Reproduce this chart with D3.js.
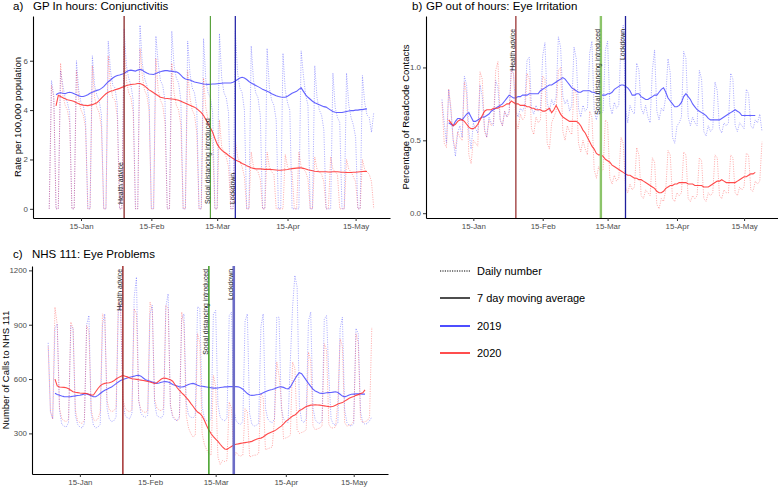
<!DOCTYPE html>
<html><head><meta charset="utf-8">
<script src="https://cdn.jsdelivr.net/npm/d3@7"></script>
<style>
body{margin:0;background:#fff}
svg{display:block}
text{font-family:"Liberation Sans",Arial,Helvetica,sans-serif}
</style>
</head><body>
<svg id="chart" width="778" height="488"></svg>
<script>
// ---------- DATA (day index 0 = 1 Jan 2020, last = 23 May 2020; 2019 aligned by weekday) ----------
const firstDay = "2020-01-01";
const maStartIndex = 3; // centred 7-day moving averages start on day 3

// a) GP In hours: Conjunctivitis (rate per 100,000)
const aDaily2019 = [0,5.2,4.6,0,0,
5.6,5.0,4.5,4.3,3.9,0,0, 6.0,4.8,4.3,4.2,3.6,0,0, 6.2,5.0,4.6,4.4,3.8,0,0, 6.8,5.6,5.0,4.9,4.2,0,0,
7.3,5.8,5.3,5.0,4.4,0,0, 7.44,5.9,5.3,5.0,4.4,0,0, 7.0,5.9,5.2,5.0,4.4,0,0, 7.2,5.8,5.3,5.1,4.4,0,0,
6.8,5.5,4.9,4.7,4.1,0,0, 6.9,5.2,4.7,4.5,3.9,0,0, 7.1,5.3,4.7,4.5,3.9,0,0, 7.2,5.5,4.9,4.7,4.0,0,0,
6.6,5.2,4.7,4.5,3.8,0,0, 6.5,4.9,4.4,4.2,3.6,0,0, 6.3,4.8,4.3,4.0,0,0,0, 0,6.4,5.4,4.6,4.2,0,0,
5.8,4.5,4.0,3.8,3.2,0,0, 0,5.5,4.1,3.7,3.5,0,0, 5.5,4.2,3.7,3.4,2.9,0,0, 5.4,4.3,3.8,3.7,3.1,3.9];
const aDaily2020 = [0,5.0,4.5,0,0,
5.9,4.6,4.2,4.0,3.5,0,0, 5.6,4.4,4.0,3.8,3.3,0,0, 5.8,4.5,4.1,3.9,3.3,0,0, 6.2,5.0,4.5,4.4,3.7,0,0,
6.6,5.2,4.7,4.5,3.9,0,0, 6.5,5.4,4.8,4.6,4.0,0,0, 6.1,4.8,4.4,4.2,3.5,0,0, 5.9,4.7,4.2,4.0,3.4,0,0,
5.6,4.5,4.0,3.8,3.1,0,0, 5.3,4.1,3.6,3.2,2.6,0,0, 3.6,2.5,2.3,2.1,1.7,0,0, 2.8,2.1,1.9,1.7,1.3,0,0,
2.3,1.7,1.6,1.5,1.2,0,0, 2.3,1.7,1.5,1.4,0,0,0, 0,2.2,1.7,1.6,1.5,0,0, 2.3,1.7,1.6,1.5,1.2,0,0,
2.1,1.6,1.5,1.4,1.1,0,0, 2.1,1.6,1.5,1.4,0,0,0, 2.0,1.6,1.5,1.3,1.1,0,0, 2.0,1.6,1.5,1.4,1.1,0];
const aMA2019 = [4.62,4.68,4.70,4.68,4.66,4.70,4.72, 4.70,4.66,4.62,4.58,4.55,4.55,4.58,
4.62,4.68,4.72,4.76,4.80,4.82,4.88, 4.95,5.05,5.15,5.22,5.30,5.36,5.40, 5.42,5.45,5.48,5.55,5.60,5.62,5.60,
5.58,5.62,5.65,5.62,5.55,5.50,5.46, 5.45,5.44,5.48,5.52,5.55,5.58,5.60, 5.60,5.58,5.58,5.56,5.55,5.50,5.42,
5.32,5.26,5.24,5.22,5.18,5.14,5.12, 5.10,5.08,5.06,5.05,5.04,5.05,5.06, 5.06,5.07,5.08,5.09,5.10,5.10,5.10,
5.10,5.13,5.18,5.24,5.30,5.33,5.30, 5.24,5.16,5.10,5.05,5.00,4.95,4.90, 4.84,4.80,4.76,4.72,4.66,4.62,4.58,
4.55,4.53,4.52,4.52,4.56,4.62,4.68, 4.72,4.76,4.84,4.90,4.76,4.62,4.52, 4.44,4.36,4.30,4.26,4.22,4.18,4.14,
4.12,4.06,4.00,3.94,3.91,3.90,3.90, 3.90,3.92,3.94,3.96,3.98,3.98,4.00, 4.00,4.02,4.02,4.04,4.05];
const aMA2020 = [4.17,4.60,4.55,4.50,4.46,4.42,4.40, 4.38,4.35,4.30,4.26,4.22,4.20,4.19,
4.18,4.20,4.22,4.26,4.30,4.38,4.48, 4.58,4.66,4.72,4.76,4.78,4.82,4.85, 4.88,4.92,4.95,5.00,5.02,5.04,5.05,
5.06,5.08,5.08,5.04,4.98,4.90,4.82, 4.76,4.70,4.64,4.58,4.52,4.50,4.48, 4.47,4.46,4.45,4.44,4.42,4.40,4.36,
4.32,4.28,4.24,4.20,4.16,4.12,4.06, 3.98,3.90,3.78,3.62,3.46,3.28,3.10, 2.85,2.62,2.48,2.38,2.30,2.24,2.16,
2.10,2.04,1.98,1.94,1.90,1.84,1.80, 1.74,1.70,1.66,1.64,1.62,1.62,1.62, 1.61,1.60,1.60,1.60,1.59,1.58,1.57,
1.56,1.56,1.57,1.58,1.59,1.61,1.63, 1.64,1.65,1.66,1.66,1.64,1.61,1.58, 1.56,1.54,1.52,1.51,1.50,1.50,1.50,
1.50,1.49,1.49,1.50,1.50,1.50,1.49, 1.48,1.48,1.47,1.47,1.47,1.48,1.48, 1.49,1.50,1.51,1.52,1.51];

// b) GP out of hours: Eye Irritation (percentage of Readcode contacts)
const bDaily2019 = [0.78,0.62,0.48,0.85,0.70,
0.50,0.39,0.55,0.60,0.52,0.94,0.88, 0.56,0.44,0.62,0.58,0.55,0.88,0.80, 0.58,0.52,0.66,0.62,0.60,0.91,0.86,
0.64,0.60,0.70,0.66,0.70,1.00,0.95, 0.70,0.66,0.72,0.70,0.74,1.05,1.07, 0.72,0.68,0.74,0.70,0.72,1.08,1.17,
0.76,0.70,0.78,0.74,0.80,1.21,1.14, 0.80,0.75,0.78,0.70,0.74,1.14,1.06, 0.72,0.66,0.74,0.70,0.72,1.10,1.18,
0.70,0.64,0.72,0.68,0.70,1.12,1.18, 0.74,0.68,0.76,0.72,0.74,1.20,1.29, 0.72,0.62,0.74,0.70,0.68,1.03,0.98,
0.72,0.68,0.74,0.66,0.62,0.98,1.12, 0.70,0.64,0.72,0.70,0.80,1.06,0.96, 0.52,0.48,0.60,0.62,0.66,1.11,1.06,
0.66,0.60,0.66,0.62,0.60,0.98,0.92, 0.56,0.53,0.60,0.56,0.58,0.90,0.84, 0.58,0.55,0.62,0.60,0.62,0.96,0.92,
0.60,0.56,0.62,0.60,0.58,0.85,0.82, 0.60,0.58,0.64,0.62,0.68,0.56];
const bDaily2020 = [0.76,0.48,0.45,0.85,0.72,
0.50,0.44,0.56,0.52,0.50,0.90,0.82, 0.40,0.34,0.50,0.48,0.46,0.97,0.92, 0.56,0.52,0.64,0.60,0.62,0.98,1.04,
0.64,0.60,0.70,0.66,0.68,0.98,0.96, 0.62,0.58,0.68,0.64,0.66,0.96,0.92, 0.58,0.54,0.66,0.62,0.64,0.94,0.92,
0.48,0.44,0.62,0.66,0.70,0.98,1.00, 0.56,0.50,0.60,0.56,0.54,0.86,0.82, 0.48,0.42,0.50,0.44,0.40,0.70,0.66,
0.30,0.24,0.32,0.28,0.30,0.64,0.62, 0.24,0.20,0.26,0.22,0.24,0.52,0.48, 0.18,0.14,0.20,0.16,0.18,0.45,0.40,
0.12,0.10,0.16,0.14,0.12,0.38,0.35, 0.06,0.03,0.10,0.08,0.16,0.43,0.40, 0.10,0.08,0.14,0.12,0.14,0.42,0.40,
0.10,0.08,0.12,0.10,0.12,0.38,0.36, 0.10,0.08,0.14,0.12,0.14,0.40,0.38, 0.12,0.10,0.16,0.14,0.14,0.40,0.38,
0.14,0.12,0.18,0.16,0.18,0.41,0.40, 0.16,0.15,0.22,0.20,0.22,0.49];
const bMA2019 = [0.62,0.61,0.60,0.63,0.65,0.65,0.64, 0.66,0.68,0.69,0.66,0.63,0.63,0.64,
0.65,0.66,0.66,0.67,0.68,0.70,0.71, 0.72,0.73,0.74,0.75,0.77,0.79,0.81, 0.80,0.79,0.79,0.80,0.80,0.81,0.81,
0.81,0.82,0.82,0.82,0.82,0.82,0.84, 0.85,0.86,0.87,0.88,0.88,0.89,0.90, 0.91,0.92,0.93,0.92,0.90,0.88,0.86,
0.85,0.84,0.83,0.83,0.84,0.84,0.84, 0.84,0.83,0.83,0.82,0.82,0.81,0.81, 0.81,0.82,0.82,0.83,0.85,0.86,0.87,
0.88,0.88,0.87,0.86,0.84,0.81,0.81, 0.82,0.82,0.80,0.79,0.78,0.78,0.79, 0.80,0.81,0.81,0.83,0.85,0.86,0.83,
0.79,0.77,0.75,0.73,0.73,0.74,0.76, 0.80,0.82,0.80,0.78,0.75,0.73,0.71, 0.70,0.69,0.68,0.67,0.65,0.64,0.64,
0.64,0.64,0.64,0.65,0.66,0.67,0.68, 0.69,0.70,0.71,0.70,0.69,0.67,0.67, 0.67,0.67,0.67,0.67,0.67];
const bMA2020 = [0.64,0.62,0.60,0.61,0.63,0.64,0.64, 0.63,0.61,0.59,0.58,0.58,0.59,0.61,
0.64,0.67,0.70,0.71,0.71,0.71,0.72, 0.72,0.72,0.73,0.73,0.74,0.75,0.75, 0.77,0.76,0.75,0.75,0.74,0.74,0.74,
0.73,0.73,0.72,0.72,0.71,0.71,0.71, 0.70,0.70,0.71,0.72,0.69,0.71,0.74, 0.71,0.68,0.66,0.65,0.64,0.63,0.63,
0.63,0.63,0.62,0.60,0.57,0.55,0.52, 0.49,0.46,0.44,0.41,0.40,0.40,0.39, 0.37,0.36,0.35,0.33,0.32,0.31,0.30,
0.29,0.28,0.27,0.26,0.26,0.25,0.24, 0.24,0.23,0.23,0.22,0.21,0.20,0.19, 0.18,0.17,0.15,0.14,0.14,0.15,0.17,
0.18,0.19,0.19,0.20,0.20,0.21,0.21, 0.21,0.21,0.20,0.20,0.20,0.19,0.19, 0.19,0.19,0.18,0.18,0.18,0.19,0.20,
0.21,0.22,0.22,0.23,0.22,0.21,0.21, 0.21,0.21,0.21,0.22,0.23,0.24,0.25, 0.25,0.26,0.27,0.27,0.28];

// c) NHS 111: Eye Problems (number of calls)
const cDaily2019 = [800,420,380,880,905,
430,350,340,335,360,895,880, 400,350,335,330,355,900,951, 410,345,330,335,350,900,960,
440,380,365,370,390,980,1010, 470,400,385,380,410,1050,1163, 480,410,395,390,400,960,1007,
470,400,390,385,405,1000,1071, 450,390,375,370,395,930,960, 470,400,390,385,400,1000,990,
450,385,370,365,380,960,979, 460,390,375,370,385,950,970, 440,370,355,350,365,920,960,
410,350,340,345,355,890,960, 440,380,365,360,380,940,942, 440,380,365,360,700,1000,1172,
1108,450,370,360,380,920,970, 440,375,360,355,370,930,951, 620,380,350,345,360,880,942,
430,360,345,340,355,880,850, 420,360,350,355,370,390];
const cDaily2020 = [780,420,380,997,900,
440,380,370,365,380,915,880, 430,370,360,355,375,895,860, 430,375,370,380,420,960,940,
480,430,420,425,440,1034,990, 490,440,425,420,430,988,960, 480,430,420,415,425,1025,980,
490,440,430,425,440,1007,990, 460,400,380,370,380,970,900, 400,330,300,280,290,850,800,
300,240,210,190,180,620,560, 170,128,150,145,150,473,440, 160,196,180,175,180,436,420,
170,175,180,180,190,520,500, 210,215,220,225,380,694,620, 480,270,275,280,290,694,660,
320,300,305,310,320,749,700, 340,320,325,330,340,795,760, 350,330,330,335,480,822,780,
360,340,345,350,365,850,800, 380,360,365,370,390,887];
const cMA2019 = [521,515,510,506,503,502,502, 503,505,507,509,511,514,518,
518,514,508,502,502,510,520, 530,538,544,550,556,565,575, 584,592,598,602,606,610,613,
616,620,621,616,606,596,592, 588,584,580,576,578,582,585, 586,584,578,570,566,562,557,
556,558,564,570,574,576,572, 566,562,560,558,556,554,552, 550,550,551,553,555,557,557,
558,558,559,558,557,552,544, 532,520,512,510,511,513,515, 518,524,530,536,540,542,546,
552,556,557,554,548,546,556, 578,600,620,635,630,612,594, 576,560,544,534,528,522,521,
522,524,525,526,528,530,526, 516,506,502,506,512,516,517, 518,518,518,517,517];
const cMA2020 = [600,562,556,555,554,552,546, 538,530,527,525,523,522,521,
520,516,512,512,530,548,562, 572,576,578,580,584,590,600, 608,614,620,616,612,606,602,
600,598,596,594,592,590,587, 584,580,576,580,590,600,606, 604,600,596,588,570,552,538,
524,512,498,484,466,450,432, 418,410,396,372,344,318,298, 282,268,256,240,226,214,212,
220,228,236,240,242,245,247, 249,251,253,256,262,268,272, 274,280,290,298,304,309,314,
322,332,340,352,366,376,386, 396,402,412,426,432,440,448, 452,456,457,458,457,456,454,
452,450,448,447,450,456,462, 466,470,478,486,494,500,504, 510,514,520,524,540];

const aYTicks = [0, 2, 4, 6];
const bYTicks = [0, 0.5, 1.0];
const cYTicks = [300, 600, 900, 1200];

const tickDates = ["2020-01-15", "2020-02-15", "2020-03-15", "2020-04-15", "2020-05-15"];
const tickLabels = ["15-Jan", "15-Feb", "15-Mar", "15-Apr", "15-May"];

const eventLabels = ["Health advice", "Social distancing introduced", "Lockdown"];
const eventDates = ["2020-02-03", "2020-03-12", "2020-03-23"];

const legendLabels = ["Daily number", "7 day moving average", "2019", "2020"];

// ---------- DRAWING ----------
const svg = d3.select("#chart");
const DAY = 864e5;
const t0 = Date.parse(firstDay + "T00:00:00Z");
const dayDate = i => new Date(t0 + i * DAY);
const parseD = s => new Date(Date.parse(s + "T00:00:00Z"));

const panels = [
  {tag: "a)", title: "GP In hours: Conjunctivitis", ylab: "Rate per 100,000 population",
   d19: aDaily2019, d20: aDaily2020, m19: aMA2019, m20: aMA2020, yTicks: aYTicks, fmt: d3.format("d"),
   x0: 33, x1: 390, y0: 16, y1: 218, tagX: 13, titleY: 10, ylabX: 21,
   labelMode: "bottom", labelY: 204,
   ev: [{c: "#8b2a2a", w: 1.3}, {c: "#4b9a2c", w: 1.1}, {c: "#2a2aaa", w: 1.3}]},
  {tag: "b)", title: "GP out of hours: Eye Irritation", ylab: "Percentage of Readcode Contacts",
   d19: bDaily2019, d20: bDaily2020, m19: bMA2019, m20: bMA2020, yTicks: bYTicks, fmt: d3.format(".1f"),
   x0: 426, x1: 778, y0: 16, y1: 218, tagX: 412, titleY: 10, ylabX: 409,
   labelMode: "top", labelY: 29,
   ev: [{c: "#a85050", w: 1.5}, {c: "#8cc46a", w: 2.4}, {c: "#1e1e9c", w: 1.3}]},
  {tag: "c)", title: "NHS 111: Eye Problems", ylab: "Number of Calls to NHS 111",
   d19: cDaily2019, d20: cDaily2020, m19: cMA2019, m20: cMA2020, yTicks: cYTicks, fmt: d3.format("d"),
   x0: 32, x1: 388, y0: 266, y1: 474, tagX: 13, titleY: 258, ylabX: 8.5,
   labelMode: "top", labelY: 269,
   ev: [{c: "#a33030", w: 1.5}, {c: "#3e9e22", w: 1.5}, {c: "#6c6cc6", w: 2.6}]}
];

const n = aDaily2019.length;
const firstD = dayDate(0), lastD = dayDate(n - 1);
const spanMs = lastD - firstD;

panels.forEach(p => {
  const g = svg.append("g");
  const x = d3.scaleUtc()
    .domain([new Date(+firstD - 0.05 * spanMs), new Date(+lastD + 0.05 * spanMs)])
    .range([p.x0, p.x1]);
  const all = p.d19.concat(p.d20);
  const [mn, mx] = d3.extent(all);
  const pad = (mx - mn) * 0.05;
  const y = d3.scaleLinear().domain([mn - pad, mx + pad]).range([p.y1, p.y0]);

  const lineDaily = d3.line().x((d, i) => x(dayDate(i))).y(d => y(d));
  const lineMA = d3.line().x((d, i) => x(dayDate(i + maStartIndex))).y(d => y(d));

  // daily dotted lines
  [[p.d19, "#0000ff"], [p.d20, "#ff0000"]].forEach(([arr, col]) => {
    g.append("path").attr("d", lineDaily(arr)).attr("fill", "none")
      .attr("stroke", col).attr("stroke-width", 0.9).attr("stroke-opacity", 0.36)
      .attr("stroke-dasharray", "1.1,1.3");
  });
  // moving averages
  g.append("path").attr("d", lineMA(p.m19)).attr("fill", "none")
    .attr("stroke", "#4646ff").attr("stroke-width", 1.1).attr("stroke-opacity", 0.85);
  g.append("path").attr("d", lineMA(p.m20)).attr("fill", "none")
    .attr("stroke", "#ff2a2a").attr("stroke-width", 1.1).attr("stroke-opacity", 0.85);

  // events
  eventDates.forEach((ds, k) => {
    const ex = x(parseD(ds));
    g.append("line").attr("x1", ex).attr("x2", ex).attr("y1", p.y0).attr("y2", p.y1)
      .attr("stroke", p.ev[k].c).attr("stroke-width", p.ev[k].w);
    g.append("text")
      .attr("transform", `translate(${ex - 0.8},${p.labelY}) rotate(-90)`)
      .attr("text-anchor", p.labelMode === "bottom" ? "start" : "end")
      .attr("font-size", 6.9).attr("fill", "#222")
      .text(eventLabels[k]);
  });

  // axes
  const xAxis = d3.axisBottom(x).tickValues(tickDates.map(parseD))
    .tickFormat((d, i) => tickLabels[i]).tickSize(3).tickSizeOuter(0).tickPadding(2.5);
  const gx = g.append("g").attr("transform", `translate(0,${p.y1})`).call(xAxis);
  const yAxis = d3.axisLeft(y).tickValues(p.yTicks).tickFormat(p.fmt)
    .tickSize(3).tickSizeOuter(0).tickPadding(2);
  const gy = g.append("g").attr("transform", `translate(${p.x0},0)`).call(yAxis);
  [gx, gy].forEach(ax => {
    ax.select(".domain").attr("stroke", "#000").attr("stroke-width", 1.1);
    ax.selectAll(".tick line").attr("stroke", "#333").attr("stroke-width", 1);
    ax.selectAll(".tick text").attr("fill", "#4d4d4d").attr("font-size", 7.9)
      .attr("font-family", "Liberation Sans, Arial, sans-serif");
  });

  // titles
  g.append("text").attr("x", p.tagX).attr("y", p.titleY).attr("font-size", 11.5).attr("fill", "#000").text(p.tag);
  g.append("text").attr("x", p.x0).attr("y", p.titleY).attr("font-size", 11.5).attr("fill", "#000").text(p.title);
  g.append("text")
    .attr("transform", `translate(${p.ylabX},${(p.y0 + p.y1) / 2}) rotate(-90)`)
    .attr("text-anchor", "middle").attr("font-size", 9.5).attr("fill", "#000").text(p.ylab);
});

// legend
const legY = [271, 298, 326, 353];
const legStyle = [
  {c: "#000", dash: "1.2,1.2", w: 1},
  {c: "#000", dash: null, w: 1.4},
  {c: "#0000ff", dash: null, w: 1.4},
  {c: "#ff0000", dash: null, w: 1.4}
];
const lg = svg.append("g");
legendLabels.forEach((lab, k) => {
  const l = lg.append("line").attr("x1", 440).attr("x2", 470).attr("y1", legY[k]).attr("y2", legY[k])
    .attr("stroke", legStyle[k].c).attr("stroke-width", legStyle[k].w);
  if (legStyle[k].dash) l.attr("stroke-dasharray", legStyle[k].dash);
  lg.append("text").attr("x", 477).attr("y", legY[k] + 4).attr("font-size", 11).attr("fill", "#000").text(lab);
});
</script>
</body></html>
